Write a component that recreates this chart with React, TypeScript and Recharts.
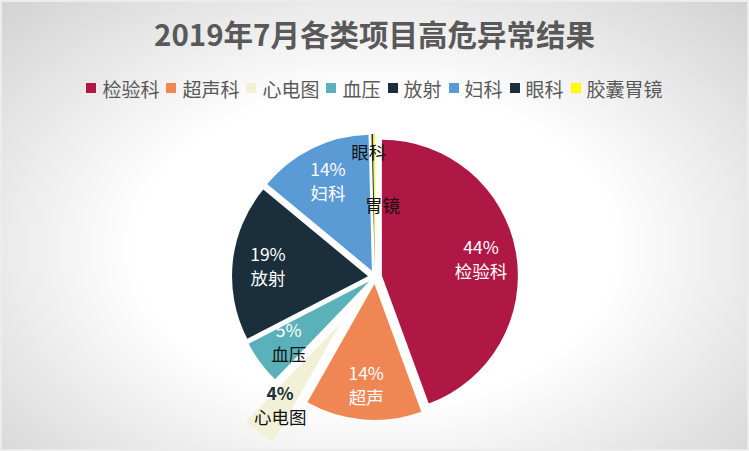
import React from 'react';
import { PieChart, Pie, Cell, Sector } from 'recharts';

const CATEGORIES = ['检验科', '超声科', '心电图', '血压', '放射', '妇科', '眼科', '胶囊胃镜'];
const VALUES = [444, 138, 40, 52, 186, 136, 2, 2];
const LABEL_NAMES = ['检验科', '超声', '心电图', '血压', '放射', '妇科', '眼科', '胃镜'];
const COLORS = ['#AF1845', '#EF8654', '#F3F0D8', '#5BB1B9', '#1A2E3B', '#5B9BD5', '#1A2E3B', '#FFFF00'];

// how far each slice is pulled out of the pie
const EXPLODE = [7, 7, 58, 7, 7, 7, 7, 7];

const RAD = Math.PI / 180;

const data = CATEGORIES.map((name, i) => ({ name, value: VALUES[i], idx: i }));

function renderSlice(props: any) {
  const i = props.payload?.idx ?? props.idx ?? 0;
  const o = EXPLODE[i];
  const dx = o * Math.cos(-props.midAngle * RAD);
  const dy = o * Math.sin(-props.midAngle * RAD);
  return (
    <Sector
      cx={props.cx + dx}
      cy={props.cy + dy}
      innerRadius={0}
      outerRadius={props.outerRadius}
      startAngle={props.startAngle}
      endAngle={props.endAngle}
      fill={props.fill}
      stroke="none"
    />
  );
}

function renderLabel(props: any) {
  const { cx, cy, midAngle, outerRadius, percent, index } = props;
  const o = EXPLODE[index];
  let r = outerRadius * 0.74 + o;
  let shift = 0;
  if (index === 6) { r = outerRadius * 0.92; shift = -4; }
  if (index === 7) { r = outerRadius * 0.53; shift = 8; }
  const x = cx + r * Math.cos(-midAngle * RAD) + shift;
  const y = cy + r * Math.sin(-midAngle * RAD);
  const pct = `${Math.round(percent * 100)}%`;
  const dark = index === 2;
  const pctFill = dark ? '#1A2E3B' : '#FFFFFF';
  const nameFill = index === 2 || index === 3 || index >= 6 ? '#111111' : '#FFFFFF';
  const showPct = percent >= 0.01;
  return (
    <g key={`lbl-${index}`}>
      {showPct && (
        <text x={x} y={y - 12} fill={pctFill} textAnchor="middle" dominantBaseline="central"
          fontSize={17.5} fontWeight={dark ? 700 : 400}>
          {pct}
        </text>
      )}
      <text x={x} y={showPct ? y + 12 : y} fill={nameFill} textAnchor="middle" dominantBaseline="central" fontSize={17.5}>
        {LABEL_NAMES[index]}
      </text>
    </g>
  );
}

function ChartLegend() {
  return (
    <div
      style={{
        position: 'absolute',
        top: 70,
        left: -2,
        width: 749,
        textAlign: 'center',
        whiteSpace: 'nowrap',
        fontSize: 19,
        lineHeight: '27px',
        color: '#595959',
        zIndex: 2,
      }}
    >
      {CATEGORIES.map((name, i) => (
        <span key={name} style={{ display: 'inline-block', marginRight: i < CATEGORIES.length - 1 ? 7 : 0 }}>
          <span
            style={{
              display: 'inline-block',
              width: 10,
              height: 10,
              background: COLORS[i],
              marginRight: 6,
              verticalAlign: 'middle',
              position: 'relative',
              top: -1,
            }}
          />
          <span style={{ verticalAlign: 'middle' }}>{name}</span>
        </span>
      ))}
    </div>
  );
}

export default function App() {
  return (
    <div
      style={{
        position: 'absolute',
        left: 0,
        top: 0,
        width: 749,
        height: 451,
        boxSizing: 'border-box',
        border: '2px solid #ececec',
        background: 'radial-gradient(ellipse at 50% 55%, #ffffff 45%, #d2d2d2 100%)',
        fontFamily: '"Noto Sans CJK SC", "Noto Sans", sans-serif',
        overflow: 'hidden',
      }}
    >
      <div
        style={{
          position: 'absolute',
          left: 0,
          width: 745,
          top: 11,
          textAlign: 'center',
          fontSize: 29.5,
          fontWeight: 700,
          color: '#595959',
          lineHeight: '40px',
        }}
      >
        2019年7月各类项目高危异常结果
      </div>
      <ChartLegend />
      <div style={{ position: 'absolute', left: -2, top: -2 }}>
        <PieChart width={749} height={451} margin={{ top: 0, right: 0, bottom: 0, left: 0 }}>
          <Pie
            data={data}
            dataKey="value"
            nameKey="name"
            cx={375}
            cy={277}
            outerRadius={136}
            startAngle={90}
            endAngle={-270}
            stroke="none"
            shape={renderSlice}
            label={renderLabel}
            labelLine={false}
            isAnimationActive={false}
          >
            {data.map((d, i) => (
              <Cell key={`cell-${i}`} fill={COLORS[i]} />
            ))}
          </Pie>
        </PieChart>
      </div>
    </div>
  );
}
